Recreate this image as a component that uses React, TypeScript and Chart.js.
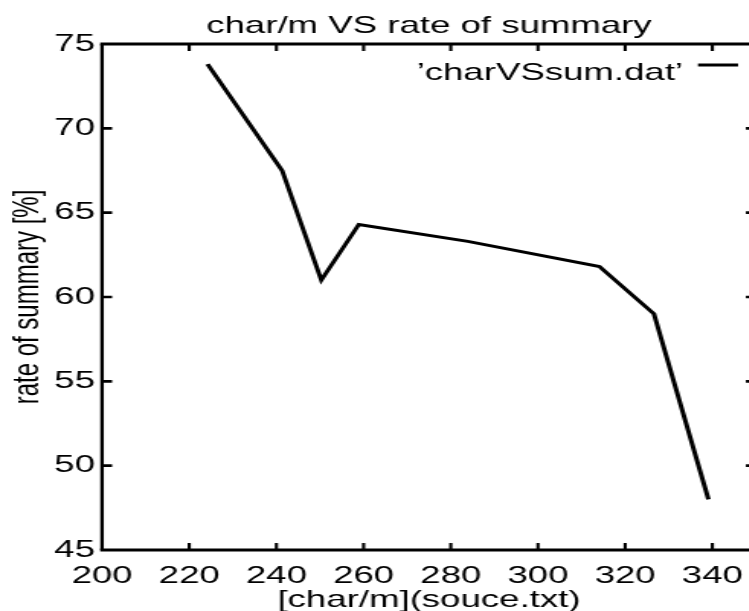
import React, { useEffect, useRef } from "react";
import { Chart, registerables } from "chart.js";

Chart.register(...registerables);

const TITLE = "char/m VS rate of summary";
const X_TITLE = "[char/m](souce.txt)";
const Y_TITLE = "rate of summary [%]";
const SERIES_LABEL = "\u2019charVSsum.dat\u2019";

const charPerMin = [224.2, 241.3, 250.3, 258.9, 283.9, 314.1, 326.6, 339.1];
const summaryRate = [73.8, 67.5, 61.0, 64.3, 63.3, 61.8, 59.0, 48.0];

const X_MIN = 200;
const X_MAX = 350;
const X_STEP = 20;
const Y_MIN = 45;
const Y_MAX = 75;
const Y_STEP = 5;

const STRETCH = 1.525;
const FONT_FAMILY = "'Liberation Sans', Arial, Helvetica, sans-serif";
const FONT_SIZE = 24;

const framePlugin = {
  id: "gnuplotFrame",
  afterDatasetsDraw(chart: any) {
    const { ctx, chartArea } = chart;
    const { left, right, top, bottom } = chartArea;
    const xs = chart.scales.x;
    const ys = chart.scales.y;
    ctx.save();
    ctx.strokeStyle = "#000";
    ctx.lineCap = "butt";
    // horizontal frame lines
    ctx.lineWidth = 3;
    ctx.beginPath();
    ctx.moveTo(left - 1.2, top);
    ctx.lineTo(right + 1.2, top);
    ctx.moveTo(left - 1.2, bottom);
    ctx.lineTo(right + 1.2, bottom);
    ctx.stroke();
    // vertical frame lines
    ctx.lineWidth = 2.3;
    ctx.beginPath();
    ctx.moveTo(left, top);
    ctx.lineTo(left, bottom);
    ctx.moveTo(right, top);
    ctx.lineTo(right, bottom);
    ctx.stroke();
    // x ticks (inward, top and bottom)
    ctx.lineWidth = 2.1;
    ctx.beginPath();
    xs.ticks.forEach((t: any) => {
      const px = xs.getPixelForValue(t.value);
      if (px <= left + 1 || px >= right - 1) return;
      ctx.moveTo(px, bottom);
      ctx.lineTo(px, bottom - 7);
      ctx.moveTo(px, top);
      ctx.lineTo(px, top + 7);
    });
    ctx.stroke();
    // y ticks (inward, left and right)
    ctx.lineWidth = 2.7;
    ctx.beginPath();
    ys.ticks.forEach((t: any) => {
      const py = ys.getPixelForValue(t.value);
      if (py <= top + 1 || py >= bottom - 1) return;
      ctx.moveTo(left, py);
      ctx.lineTo(left + 6.6, py);
      ctx.moveTo(right, py);
      ctx.lineTo(right - 6.6, py);
    });
    ctx.stroke();
    // key (gnuplot style: text then sample line)
    const ds = chart.data.datasets[0];
    ctx.fillStyle = "#000";
    ctx.font = `${FONT_SIZE}px ${FONT_FAMILY}`;
    ctx.textAlign = "right";
    ctx.textBaseline = "alphabetic";
    ctx.fillText(ds.label, right - 47.8, top + 36);
    ctx.lineWidth = 3;
    ctx.strokeStyle = ds.borderColor;
    ctx.beginPath();
    ctx.moveTo(right - 38, top + 21);
    ctx.lineTo(right - 11.7, top + 21);
    ctx.stroke();
    ctx.restore();
  },
};

export default function App() {
  const canvasRef = useRef<HTMLCanvasElement | null>(null);

  useEffect(() => {
    const canvas = canvasRef.current;
    if (!canvas) return;
    const font = { family: FONT_FAMILY, size: FONT_SIZE, weight: "normal" as const };
    const chart = new Chart(canvas, {
      type: "line",
      data: {
        datasets: [
          {
            label: SERIES_LABEL,
            data: charPerMin.map((x, i) => ({ x, y: summaryRate[i] })),
            borderColor: "#000",
            backgroundColor: "#000",
            borderWidth: 3,
            pointRadius: 0,
            tension: 0,
            fill: false,
          },
        ],
      },
      options: {
        animation: false,
        responsive: false,
        devicePixelRatio: 1,
        layout: { padding: { left: 0, right: 14.3, top: 0, bottom: 0 } },
        plugins: {
          legend: { display: false },
          tooltip: { enabled: false },
          title: {
            display: true,
            text: TITLE,
            color: "#000",
            font,
            fullSize: false,
            padding: { top: 12.2, bottom: 3 },
          },
        },
        scales: {
          x: {
            type: "linear",
            min: X_MIN,
            max: X_MAX,
            grid: { display: false, drawTicks: false },
            border: { display: false },
            ticks: {
              stepSize: X_STEP,
              includeBounds: false,
              color: "#000",
              font,
              padding: 11.6,
              maxRotation: 0,
              autoSkip: false,
            },
            title: {
              display: true,
              text: X_TITLE,
              color: "#000",
              font: { ...font, lineHeight: 1.0 },
              padding: { top: 0, bottom: -1.5 },
            },
            afterFit: (scale: any) => {
              scale.height = 61;
            },
          },
          y: {
            type: "linear",
            min: Y_MIN,
            max: Y_MAX,
            grid: { display: false, drawTicks: false },
            border: { display: false },
            ticks: {
              stepSize: Y_STEP,
              color: "#000",
              font,
              padding: 4.6,
            },
            title: {
              display: true,
              text: Y_TITLE,
              color: "#000",
              font,
              padding: { top: 4, bottom: 0 },
            },
            afterFit: (scale: any) => {
              scale.width = 66.9;
            },
          },
        },
      },
      plugins: [framePlugin],
    });
    return () => chart.destroy();
  }, []);

  return (
    <div
      style={{
        position: "fixed",
        left: 0,
        top: 0,
        width: 749,
        height: 611,
        overflow: "hidden",
        background: "#fff",
      }}
    >
      <canvas
        ref={canvasRef}
        width={510}
        height={611}
        style={{
          display: "block",
          transform: `scaleX(${STRETCH})`,
          transformOrigin: "0 0",
        }}
      />
    </div>
  );
}
